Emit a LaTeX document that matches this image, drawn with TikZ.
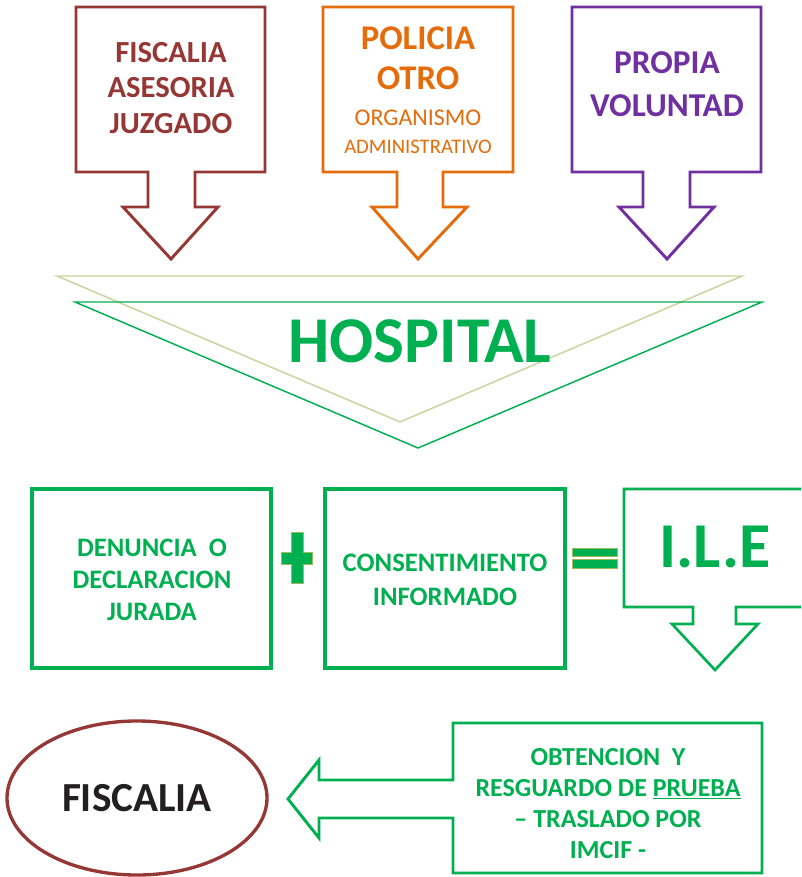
\documentclass[tikz,border=0pt]{standalone}
\usepackage{fontspec}
\setmainfont{Carlito}
\usetikzlibrary{shapes.geometric}
\definecolor{cbrown}{HTML}{953735}
\definecolor{corange}{HTML}{E46C0A}
\definecolor{cpurple}{HTML}{7030A0}
\definecolor{cgreen}{HTML}{00B050}
\definecolor{colive}{HTML}{C3D69B}
\definecolor{cplus}{HTML}{9BBB59}
\definecolor{ctext}{HTML}{231F20}
\begin{document}
\begin{tikzpicture}[x=0.75pt,y=-0.75pt,line join=miter,
  callout/.style={line width=2.2pt},
  gbox/.style={draw=cgreen,line width=2.3pt},
  tri/.style={line width=1.1pt},
  sign/.style={fill=cgreen,draw=cplus,line width=0.6pt},
  lbl/.style={inner sep=0pt,align=center,font=\bfseries},
]
\useasboundingbox (0,0) rectangle (801,877);
\clip (0,0) rectangle (801,877);

% top callouts
\draw[callout,cbrown] (76,7) -- (265,7) -- (265,172) -- (195,172) -- (195,207) -- (218,207) -- (171,259) -- (123,207) -- (148,207) -- (148,172) -- (76,172) -- cycle;
\draw[callout,corange] (323,7) -- (513,7) -- (513,172) -- (443,172) -- (443,207) -- (467,207) -- (418,259) -- (372,207) -- (397,207) -- (397,172) -- (323,172) -- cycle;
\draw[callout,cpurple] (572,7) -- (761,7) -- (761,172) -- (690,172) -- (690,207) -- (714,207) -- (667,259) -- (619,207) -- (643,207) -- (643,172) -- (572,172) -- cycle;

\node[lbl,text=cbrown,font=\bfseries\fontsize{23}{26.6}\selectfont] (t1) at (171,88) {FISCALIA\\ASESORIA\\JUZGADO};
\node[lbl,text=corange,font=\bfseries\fontsize{26}{30}\selectfont] (t2a) at (418,58) {POLICIA\\OTRO};
\node[lbl,text=corange,font=\mdseries\fontsize{18}{22}\selectfont] (t2b) at (418,118) {ORGANISMO};
\node[lbl,text=corange,font=\mdseries\fontsize{15.5}{20}\selectfont] (t2c) at (418,147) {ADMINISTRATIVO};
\node[lbl,text=cpurple,font=\bfseries\fontsize{25}{32}\selectfont] (t3) at (667,84) {PROPIA\\VOLUNTAD};

% hospital triangles
\draw[tri,colive] (57,276) -- (742,276) -- (400,422) -- cycle;
\draw[tri,cgreen] (75,302) -- (762,302) -- (418,448) -- cycle;
\node[lbl,text=cgreen,font=\bfseries\fontsize{49}{58}\selectfont] (hosp) at (420,341) {HOSPITAL};

% second row
\draw[gbox] (32,489) rectangle (271,668);
\node[lbl,text=cgreen,font=\bfseries\fontsize{20}{24}\selectfont] (den) at (152,580) {DENUNCIA~~O\\DECLARACION\\JURADA};
\draw[sign] (291.5,532) -- (303,532) -- (303,552.5) -- (312,552.5) -- (312,564) -- (303,564) -- (303,583) -- (291.5,583) -- (291.5,564) -- (281,564) -- (281,552.5) -- (291.5,552.5) -- cycle;
\draw[gbox] (325,489) rectangle (565,668);
\node[lbl,text=cgreen,font=\bfseries\fontsize{20}{25.5}\selectfont] (cons) at (445,580) {CONSENTIMIENTO\\INFORMADO};
\draw[sign] (572,548) rectangle (617,556);
\draw[sign] (572,559) rectangle (617,568);
\draw[callout,cgreen,line width=2pt] (806,489) -- (624,489) -- (624,607) -- (693,607) -- (693,624) -- (672,624) -- (715,670) -- (758,624) -- (736,624) -- (736,607) -- (806,607);
\node[lbl,text=cgreen,font=\bfseries\fontsize{48}{56}\selectfont] (ile) at (715,547) {I.L.E};

% bottom row
\draw[callout,cgreen] (453,723) -- (762,723) -- (762,873) -- (453,873) -- (453,818) -- (319,818) -- (319,838) -- (288,799) -- (319,760) -- (319,780) -- (453,780) -- cycle;
\node[lbl,text=cgreen,font=\bfseries\fontsize{19.5}{23.3}\selectfont] (obt) at (608,803.5) {OBTENCION~~Y\\RESGUARDO DE \underline{PRUEBA}\\– TRASLADO POR\\IMCIF -};
\node[ellipse,draw=cbrown,line width=2.5pt,minimum width=195pt,minimum height=115.5pt,inner sep=0pt,text=ctext,font=\bfseries\fontsize{31}{37}\selectfont] (fisc) at (137,798) {FISCALIA};
\end{tikzpicture}
\end{document}
